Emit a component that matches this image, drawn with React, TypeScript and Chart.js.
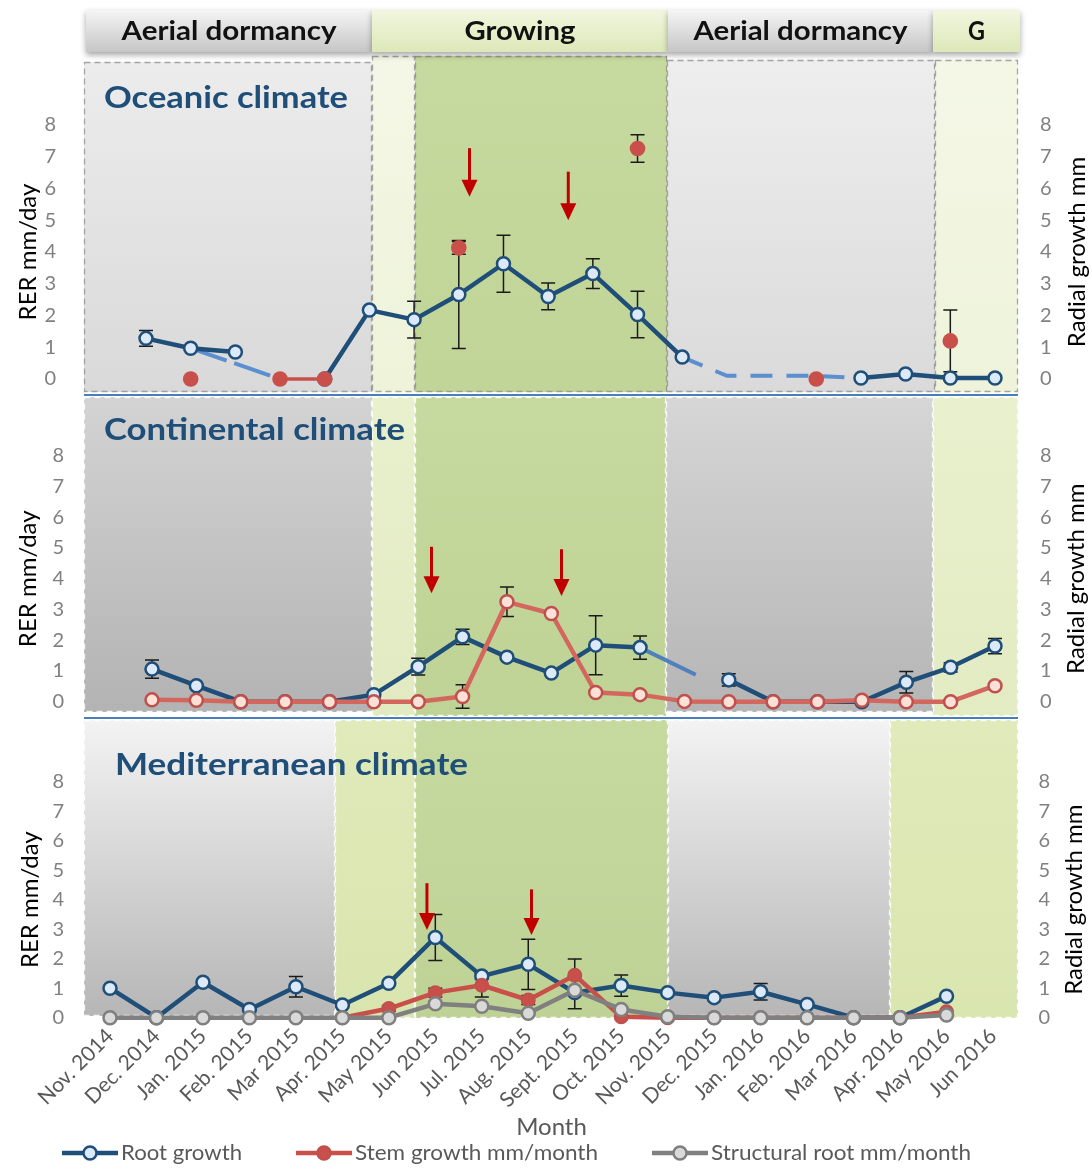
import React, { useEffect, useRef } from "react";
import { Chart, registerables } from "chart.js";

Chart.register(...registerables);
Chart.defaults.font.family = "Lato";

// ---------- data ----------
const months = [
  "Nov. 2014", "Dec. 2014", "Jan. 2015", "Feb. 2015", "Mar 2015", "Apr. 2015",
  "May 2015", "Jun 2015", "Jul. 2015", "Aug. 2015", "Sept. 2015", "Oct. 2015",
  "Nov. 2015", "Dec. 2015", "Jan. 2016", "Feb. 2016", "Mar 2016", "Apr. 2016",
  "May 2016", "Jun 2016",
];
const phaseLabels = ["Aerial dormancy", "Growing", "Aerial dormancy", "G"];
const climateNames = ["Oceanic climate", "Continental climate", "Mediterranean climate"];
const seriesNames = ["Root growth", "Stem growth mm/month", "Structural root mm/month"];
const leftAxisTitle = "RER mm/day";
const rightAxisTitle = "Radial growth mm";

// Oceanic
const oceanicRoot = [1.28, 0.97, 0.85, null, 0, 2.17, 1.87, 2.66, 3.63, 2.6, 3.32, 2.03, 0.69, null, null, null, 0.03, 0.16, 0.03, 0.03];
const oceanicRootErr = [0.25, 0, 0, 0, 0, 0, 0.58, 1.7, 0.9, 0.42, 0.47, 0.73, 0, 0, 0, 0, 0, 0, 0, 0];
const oceanicRootLinkA = [null, 0.97, null, 0, null, null, null, null, null, null, null, null, null, null, null, null, null, null, null, null];
const oceanicRootLinkB = [null, null, null, null, null, null, null, null, null, null, null, null, 0.69, 0.1, 0.1, 0.1, 0.03, null, null, null];
const oceanicStem = [null, 0, null, 0, 0, null, null, 4.13, null, null, null, 7.26, null, null, null, 0, null, null, 1.2, null];
const oceanicStemErr = [0, 0, 0, 0, 0, 0, 0, 0.2, 0, 0, 0, 0.43, 0, 0, 0, 0, 0, 0, 0.97, 0];
const oceanicArrows = [[7.24, 7.27, 5.74], [9.45, 6.53, 5.0]];

// Continental
const continentalRoot = [1.06, 0.52, 0, 0, 0, 0.23, 1.14, 2.11, 1.45, 0.93, 1.84, 1.76, null, 0.71, 0, 0, 0, 0.63, 1.12, 1.81];
const continentalRootErr = [0.3, 0, 0, 0, 0, 0, 0.27, 0.25, 0, 0, 0.96, 0.38, 0, 0.2, 0, 0, 0, 0.35, 0.15, 0.25];
const continentalRootLink = [null, null, null, null, null, null, null, null, null, null, null, 1.76, null, 0.35, null, null, null, null, null, null];
const continentalStem = [0.06, 0.05, 0, 0, 0, 0, 0, 0.17, 3.25, 2.87, 0.3, 0.23, 0.01, 0, 0, 0, 0.05, 0, 0, 0.52];
const continentalStemErr = [0, 0, 0, 0, 0, 0, 0, 0.38, 0.48, 0, 0, 0, 0, 0, 0, 0, 0, 0, 0, 0];
const continentalArrows = [[6.3, 5.04, 3.53], [9.23, 4.96, 3.44]];

// Mediterranean
const medRoot = [1.0, 0, 1.2, 0.28, 1.05, 0.43, 1.17, 2.72, 1.41, 1.81, 0.85, 1.09, 0.85, 0.68, 0.88, 0.45, 0, 0, 0.73, null];
const medRootErr = [0, 0, 0, 0, 0.35, 0, 0, 0.78, 0.1, 0.85, 0.55, 0.36, 0, 0, 0.28, 0, 0, 0, 0, 0];
const medStem = [null, null, null, null, null, 0, 0.31, 0.85, 1.1, 0.6, 1.44, 0.03, 0, 0, 0, 0, 0, 0, 0.2, null];
const medStemErr = [0, 0, 0, 0, 0, 0, 0.1, 0.15, 0.4, 0.15, 0.55, 0, 0, 0, 0, 0, 0, 0, 0, 0];
const medStructural = [0, 0, 0, 0, 0, 0, 0, 0.47, 0.39, 0.15, 0.93, 0.28, 0.03, 0, 0, 0, 0, 0, 0.09, null];
const medArrows = [[6.82, 4.56, 2.97], [9.07, 4.35, 2.8]];

// ---------- styles ----------
const NAVY = "#1f4e79";
const RED = "#c9504a";
const W = 1092;

const rootStyle = {
  borderColor: NAVY, borderWidth: 4.5, pointRadius: 6.5, pointBorderWidth: 2.5,
  pointBackgroundColor: "#dce9f8", pointBorderColor: NAVY, borderJoinStyle: "round",
  yAxisID: "y", order: 3, clip: false,
};

function linkStyle(color: string, dash: number[]) {
  return { borderColor: color, borderWidth: 4, borderDash: dash, pointRadius: 0, spanGaps: true, yAxisID: "y", order: 4, clip: false, borderCapStyle: "butt" };
}

const panels: any[] = [
  {
    key: "oc", top: 0, height: 394,
    area: { left: 146, right: 995, top: 125, bottom: 379 },
    tickPad: [90, 45], titlePad: 13.6, rightTitleX: 1077.5,
    bands: [
      [84, 372, 62, 392, "#ececec", "#d9d9d9"],
      [372, 415, 56, 392, "#f4f7e6", "#eef3d9"],
      [415, 667, 56, 392, "#c6d99e", "#c2d598"],
      [667, 935, 60, 392, "#eeeeee", "#dadada"],
      [935, 1018, 60, 392, "#f4f7e6", "#eef3da"],
    ],
    dash: "rgba(140,140,140,0.75)",
    title: { text: climateNames[0], x: 104, y: 98, w: 244 },
    header: true, separator: false, legend: false, showX: false,
    arrows: oceanicArrows,
    datasets: [
      { label: seriesNames[0], data: oceanicRoot, errors: oceanicRootErr, ...rootStyle },
      { label: "link", data: oceanicRootLinkA, ...linkStyle("#5b8fd0", [38, 8]) },
      { label: "link", data: oceanicRootLinkB, ...linkStyle("#5b8fd0", [22, 14]) },
      {
        label: seriesNames[1], data: oceanicStem, errors: oceanicStemErr, yAxisID: "y2", order: 2, clip: false,
        borderColor: RED, borderWidth: 3.5, pointRadius: 7.8, pointBorderWidth: 0,
        pointBackgroundColor: RED, pointBorderColor: RED,
      },
    ],
  },
  {
    key: "co", top: 394, height: 323,
    area: { left: 152, right: 995, top: 61.8, bottom: 307.7 },
    tickPad: [88, 45], titlePad: 14, rightTitleX: 1076.5,
    bands: [
      [84, 372, 3, 318, "#d3d3d3", "#b3b3b3"],
      [372, 415, 3, 322, "#e9f0cd", "#e2eac2"],
      [415, 666, 3, 322, "#c6d99e", "#c0d396"],
      [666, 933, 3, 318, "#d6d6d6", "#b5b5b5"],
      [933, 1018, 3, 322, "#e9f0cd", "#e3ebc3"],
    ],
    dash: "rgba(255,255,255,0.85)",
    title: { text: climateNames[1], x: 104, y: 36, w: 301 },
    header: false, separator: true, legend: false, showX: false,
    arrows: continentalArrows,
    datasets: [
      { label: seriesNames[0], data: continentalRoot, errors: continentalRootErr, ...rootStyle },
      { label: "link", data: continentalRootLink, ...linkStyle("#4f81bd", [62, 60]) },
      {
        label: seriesNames[1], data: continentalStem, errors: continentalStemErr, yAxisID: "y2", order: 2, clip: false,
        borderColor: "#d4675d", borderWidth: 4.5, pointRadius: 6.5, pointBorderWidth: 2.5,
        pointBackgroundColor: "#fde1d7", pointBorderColor: "#c0504d", borderJoinStyle: "round",
      },
    ],
  },
  {
    key: "me", top: 717, height: 452,
    area: { left: 110, right: 993, top: 64.7, bottom: 300.7 },
    tickPad: [46, 45.6], titlePad: 16, rightTitleX: 1074,
    bands: [
      [84, 335, 3, 299, "#f3f3f3", "#b6b6b6"],
      [335, 415, 3, 301, "#e0eaba", "#d9e5ae"],
      [415, 668, 3, 301, "#c6d99e", "#bfd296"],
      [668, 890, 3, 299, "#f3f3f3", "#b6b6b6"],
      [890, 1018, 3, 301, "#e0eaba", "#dae6b0"],
    ],
    dash: "rgba(255,255,255,0.85)",
    title: { text: climateNames[2], x: 115, y: 48, w: 353 },
    header: false, separator: true, legend: true, showX: true,
    arrows: medArrows,
    datasets: [
      { label: seriesNames[0], data: medRoot, errors: medRootErr, ...rootStyle },
      {
        label: seriesNames[1], data: medStem, errors: medStemErr, yAxisID: "y2", order: 2, clip: false,
        borderColor: RED, borderWidth: 4.5, pointRadius: 6.5, pointBorderWidth: 2,
        pointBackgroundColor: RED, pointBorderColor: "#c0504d", borderJoinStyle: "round",
      },
      {
        label: seriesNames[2], data: medStructural, yAxisID: "y2", order: 1, clip: false,
        borderColor: "#808080", borderWidth: 4.5, pointRadius: 6.5, pointBorderWidth: 2.5,
        pointBackgroundColor: "#d9d9d9", pointBorderColor: "#7f7f7f", borderJoinStyle: "round",
      },
    ],
  },
];

// header segments (page pixels) and legend layout
const headerSegs = [
  { x0: 86, x1: 372, green: false, w: 215 },
  { x0: 372, x1: 668, green: true, w: 111 },
  { x0: 668, x1: 933, green: false, w: 214 },
  { x0: 933, x1: 1020, green: true, w: 17 },
];
const legendLayout = [
  { x0: 62, x1: 118, tx: 121, tw: 121 },
  { x0: 296, x1: 352, tx: 355, tw: 243 },
  { x0: 652, x1: 708, tx: 711, tw: 260 },
];

function fitText(ctx: CanvasRenderingContext2D, text: string, x: number, y: number, w: number, font: string, color: string, center = false) {
  ctx.save();
  ctx.font = font;
  ctx.fillStyle = color;
  ctx.textBaseline = "middle";
  ctx.textAlign = "left";
  const nat = ctx.measureText(text).width || 1;
  const sx = w / nat;
  ctx.translate(center ? x - w / 2 : x, y);
  ctx.scale(sx, 1);
  ctx.fillText(text, 0, 0);
  ctx.restore();
}

function makeDeco(p: any) {
  return {
    id: "deco_" + p.key,
    beforeDraw(chart: any) {
      const ctx: CanvasRenderingContext2D = chart.ctx;
      ctx.save();
      for (const b of p.bands) {
        const g = ctx.createLinearGradient(0, b[2], 0, b[3]);
        g.addColorStop(0, b[4]);
        g.addColorStop(1, b[5]);
        ctx.fillStyle = g;
        ctx.fillRect(b[0], b[2], b[1] - b[0], b[3] - b[2]);
      }
      ctx.setLineDash([6, 4]);
      ctx.strokeStyle = p.dash;
      ctx.lineWidth = 1.3;
      for (const b of p.bands) {
        ctx.strokeRect(b[0] + 0.5, b[2] + 0.5, b[1] - b[0] - 1, b[3] - b[2] - 1);
      }
      ctx.setLineDash([]);
      if (p.separator) {
        ctx.strokeStyle = "#4a7ebb";
        ctx.lineWidth = 2;
        ctx.beginPath();
        ctx.moveTo(84, 1);
        ctx.lineTo(1018, 1);
        ctx.stroke();
      }
      if (p.header) {
        headerSegs.forEach((s, i) => {
          ctx.save();
          ctx.shadowColor = "rgba(0,0,0,0.35)";
          ctx.shadowBlur = 6;
          ctx.shadowOffsetY = 3;
          const g = ctx.createLinearGradient(0, 10, 0, 52);
          if (s.green) { g.addColorStop(0, "#f2f6df"); g.addColorStop(1, "#dde8b8"); }
          else { g.addColorStop(0, "#f5f5f5"); g.addColorStop(1, "#c6c6c6"); }
          ctx.fillStyle = g;
          ctx.fillRect(s.x0, 10, s.x1 - s.x0, 42);
          ctx.restore();
          fitText(ctx, phaseLabels[i], (s.x0 + s.x1) / 2, 31, s.w, "bold 27px Lato", "#111111", true);
        });
      }
      ctx.restore();
    },
    beforeDatasetsDraw(chart: any) {
      const ctx: CanvasRenderingContext2D = chart.ctx;
      fitText(ctx, p.title.text, p.title.x, p.title.y, p.title.w, "bold 30px Lato", NAVY);
      // right axis title, reading bottom-to-top
      ctx.save();
      ctx.font = "24px Lato";
      ctx.fillStyle = "#000000";
      ctx.textAlign = "center";
      ctx.textBaseline = "middle";
      ctx.translate(p.rightTitleX, (chart.chartArea.top + chart.chartArea.bottom) / 2);
      ctx.rotate(-Math.PI / 2);
      ctx.fillText(rightAxisTitle, 0, 0);
      ctx.restore();

      const xs = chart.scales.x;
      ctx.save();
      ctx.strokeStyle = "#1a1a1a";
      ctx.lineWidth = 1.5;
      chart.data.datasets.forEach((ds: any) => {
        if (!ds.errors) return;
        const ys = chart.scales[ds.yAxisID || "y"];
        ds.errors.forEach((e: number, i: number) => {
          const v = ds.data[i];
          if (!e || v === null || v === undefined) return;
          const x = xs.getPixelForValue(i);
          const yT = ys.getPixelForValue(v + e);
          const yB = ys.getPixelForValue(v - e);
          ctx.beginPath();
          ctx.moveTo(x, yT); ctx.lineTo(x, yB);
          ctx.moveTo(x - 7, yT); ctx.lineTo(x + 7, yT);
          ctx.moveTo(x - 7, yB); ctx.lineTo(x + 7, yB);
          ctx.stroke();
        });
      });
      ctx.restore();
    },
    afterDatasetsDraw(chart: any) {
      const ctx: CanvasRenderingContext2D = chart.ctx;
      const xs = chart.scales.x;
      const ys = chart.scales.y;
      ctx.save();
      ctx.strokeStyle = "#c00000";
      ctx.fillStyle = "#c00000";
      for (const a of p.arrows) {
        const x = xs.getPixelForValue(a[0]);
        const y0 = ys.getPixelForValue(a[1]);
        const y1 = ys.getPixelForValue(a[2]);
        ctx.lineWidth = 3;
        ctx.beginPath();
        ctx.moveTo(x, y0);
        ctx.lineTo(x, y1 - 14);
        ctx.stroke();
        ctx.beginPath();
        ctx.moveTo(x - 8, y1 - 17);
        ctx.lineTo(x + 8, y1 - 17);
        ctx.lineTo(x, y1);
        ctx.closePath();
        ctx.fill();
      }
      ctx.restore();
    },
    afterDraw(chart: any) {
      if (!p.legend) return;
      const ctx: CanvasRenderingContext2D = chart.ctx;
      const y = 436;
      chart.data.datasets.forEach((ds: any, i: number) => {
        const L = legendLayout[i];
        if (!L) return;
        ctx.save();
        ctx.strokeStyle = ds.borderColor;
        ctx.lineWidth = 4.5;
        ctx.beginPath();
        ctx.moveTo(L.x0, y);
        ctx.lineTo(L.x1, y);
        ctx.stroke();
        ctx.beginPath();
        ctx.arc((L.x0 + L.x1) / 2, y, 6.5, 0, Math.PI * 2);
        ctx.fillStyle = ds.pointBackgroundColor;
        ctx.fill();
        ctx.lineWidth = 2.5;
        ctx.strokeStyle = ds.pointBorderColor;
        ctx.stroke();
        ctx.restore();
        fitText(ctx, ds.label, L.tx, y, L.tw, "21px Lato", "#595959");
      });
    },
  };
}

function buildConfig(p: any) {
  const tickFont = { family: "Lato", size: 20 };
  const titleFont = { family: "Lato", size: 24 };
  return {
    type: "line",
    data: { labels: months, datasets: p.datasets },
    options: {
      responsive: false,
      maintainAspectRatio: false,
      animation: false,
      devicePixelRatio: 1,
      events: [],
      layout: { padding: { left: 0, right: 0, top: p.area.top, bottom: 0 } },
      plugins: { legend: { display: false }, tooltip: { enabled: false }, title: { display: false } },
      scales: {
        x: {
          type: "category",
          display: true,
          offset: false,
          grid: { display: false, drawTicks: false },
          border: { display: false },
          ticks: { display: p.showX, autoSkip: false, maxRotation: 45, minRotation: 45, color: "#595959", font: { family: "Lato", size: 21 }, padding: 6 },
          title: { display: p.showX, text: "Month", color: "#595959", font: titleFont, padding: { top: 0, bottom: 27.6 } },
          afterFit: (s: any) => { s.height = p.height - p.area.bottom; s.paddingLeft = 0; s.paddingRight = 0; },
        },
        y: {
          position: "left", min: 0, max: 8,
          grid: { display: false, drawTicks: false }, border: { display: false },
          ticks: { stepSize: 1, autoSkip: false, padding: p.tickPad[0], color: "#808080", font: tickFont },
          title: { display: true, text: leftAxisTitle, color: "#000000", font: titleFont, padding: { top: p.titlePad, bottom: 0 } },
          afterFit: (s: any) => { s.width = p.area.left; s.paddingTop = 0; s.paddingBottom = 0; },
        },
        y2: {
          position: "right", min: 0, max: 8,
          grid: { display: false, drawTicks: false }, border: { display: false },
          ticks: { stepSize: 1, autoSkip: false, padding: p.tickPad[1], color: "#808080", font: tickFont },
          title: { display: false },
          afterFit: (s: any) => { s.width = W - p.area.right; s.paddingTop = 0; s.paddingBottom = 0; },
        },
      },
    },
    plugins: [makeDeco(p)],
  };
}

function Panel({ p }: { p: any }) {
  const ref = useRef<HTMLCanvasElement>(null);
  useEffect(() => {
    if (!ref.current) return;
    const chart = new Chart(ref.current, buildConfig(p) as any);
    return () => chart.destroy();
  }, [p]);
  return (
    <canvas
      ref={ref}
      width={W}
      height={p.height}
      style={{ position: "absolute", left: 0, top: p.top, width: W, height: p.height, display: "block" }}
    />
  );
}

export default function App() {
  return (
    <div style={{ position: "absolute", left: 0, top: 0, width: W, height: 1169, background: "#ffffff", overflow: "hidden" }}>
      {panels.map((p) => (
        <Panel key={p.key} p={p} />
      ))}
    </div>
  );
}
